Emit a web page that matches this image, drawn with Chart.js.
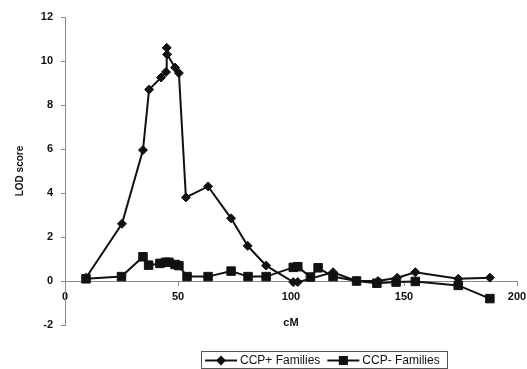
<!DOCTYPE html>
<html>
<head>
<meta charset="utf-8">
<script src="https://cdn.jsdelivr.net/npm/chart.js@4"></script>
<style>
  body { margin: 0; background: #fff; }
  #wrap { width: 527px; height: 369px; }
</style>
</head>
<body>
<div id="wrap"><canvas id="myChart" width="527" height="369"></canvas></div>
<script>
// CCP+ families (diamonds)
const cmPlus = [9.3, 25.2, 34.5, 37.2, 42.5, 44.7, 45.0, 45.2, 48.7, 50.4, 53.5, 63.3, 73.5, 80.8, 89, 101, 103, 118.6, 129, 138.5, 147, 155, 174, 188];
const lodPlus = [0.15, 2.6, 5.95, 8.7, 9.25, 9.5, 10.6, 10.3, 9.7, 9.45, 3.8, 4.3, 2.85, 1.6, 0.7, -0.05, -0.05, 0.4, 0.0, 0.0, 0.15, 0.4, 0.1, 0.15];

// CCP- families (squares)
const cmMinus = [9.3, 25, 34.5, 37, 42, 44.5, 46, 48.7, 50.4, 54, 63.3, 73.5, 81, 89, 101, 103, 108.6, 112, 118.6, 129, 138, 146.5, 155, 174, 188];
const lodMinus = [0.1, 0.2, 1.1, 0.72, 0.8, 0.85, 0.85, 0.75, 0.7, 0.2, 0.2, 0.45, 0.2, 0.2, 0.62, 0.65, 0.18, 0.6, 0.2, 0.0, -0.1, -0.05, -0.02, -0.2, -0.8];

const seriesNames = ["CCP+ Families", "CCP- Families"];
const xTicks = [0, 50, 100, 150, 200];
const yTicks = [-2, 0, 2, 4, 6, 8, 10, 12];

const ink = "#111";
const axisGray = "#8a8a8a";
const font = "'Liberation Sans', Arial, sans-serif";

function toPoints(xs, ys) {
  return xs.map((x, i) => ({ x: x, y: ys[i] }));
}

// boxed legend with line-through-marker icons, like the original
const boxLegend = {
  id: "boxLegend",
  afterDraw(chart) {
    const c = chart.ctx;
    const left = 201, top = 351, w = 246, h = 17;
    c.save();
    c.strokeStyle = "#555";
    c.lineWidth = 1;
    c.strokeRect(left + 0.5, top + 0.5, w, h);
    c.font = "12px " + font;
    c.textBaseline = "middle";
    const cy = top + h / 2 + 1;
    let x = left + 4;
    chart.data.datasets.forEach((ds) => {
      c.strokeStyle = ink;
      c.fillStyle = ink;
      c.lineWidth = 2;
      c.beginPath();
      c.moveTo(x, cy);
      c.lineTo(x + 32, cy);
      c.stroke();
      Chart.helpers.drawPoint(c, {
        pointStyle: ds.pointStyle,
        radius: ds.pointRadius - 1,
        borderWidth: 1
      }, x + 16, cy);
      c.fillText(ds.label, x + 35, cy);
      x += 35 + c.measureText(ds.label).width + 7;
    });
    c.restore();
  }
};

const ctx = document.getElementById("myChart").getContext("2d");
const chart = new Chart(ctx, {
  type: "scatter",
  data: {
    datasets: [
      {
        label: seriesNames[0],
        data: toPoints(cmPlus, lodPlus),
        showLine: true,
        borderColor: ink,
        backgroundColor: ink,
        borderWidth: 2,
        pointStyle: "rectRot",
        pointRadius: 4.5,
        pointBorderWidth: 1
      },
      {
        label: seriesNames[1],
        data: toPoints(cmMinus, lodMinus),
        showLine: true,
        borderColor: ink,
        backgroundColor: ink,
        borderWidth: 2,
        pointStyle: "rect",
        pointRadius: 6,
        pointBorderWidth: 1
      }
    ]
  },
  options: {
    responsive: false,
    animation: false,
    layout: { padding: { left: 0, top: 17, right: 10, bottom: 44 } },
    plugins: {
      legend: { display: false },
      tooltip: { enabled: false }
    },
    scales: {
      x: {
        type: "linear",
        position: { y: 0 },
        min: 0,
        max: 200,
        afterBuildTicks: (s) => { s.ticks = xTicks.map((v) => ({ value: v })); },
        afterFit: (s) => { s.paddingLeft = 0; s.paddingRight = 5; },
        grid: { drawOnChartArea: false, drawTicks: true, tickLength: 4, color: axisGray },
        border: { display: true, color: axisGray, width: 1 },
        ticks: {
          color: ink,
          padding: 5,
          font: { family: font, size: 11, weight: "bold" }
        },
        title: {
          display: true,
          text: "cM",
          color: ink,
          padding: { top: 8 },
          font: { family: font, size: 11, weight: "bold" }
        }
      },
      y: {
        type: "linear",
        min: -2,
        max: 12,
        afterBuildTicks: (s) => { s.ticks = yTicks.map((v) => ({ value: v })); },
        afterFit: (s) => { s.width = 65; },
        grid: { drawOnChartArea: false, drawTicks: true, tickLength: 4, color: axisGray },
        border: { display: true, color: axisGray, width: 1 },
        ticks: {
          color: ink,
          padding: 8,
          font: { family: font, size: 11, weight: "bold" }
        },
        title: {
          display: true,
          text: "LOD score",
          color: ink,
          padding: { top: 14, bottom: 0 },
          font: { family: font, size: 10, weight: "bold" }
        }
      }
    }
  },
  plugins: [boxLegend]
});
</script>
</body>
</html>
